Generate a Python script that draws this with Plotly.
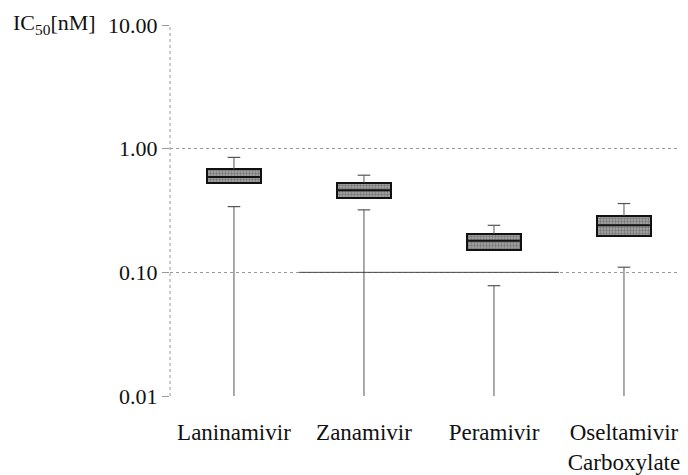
import plotly.graph_objects as go

categories = ["Laninamivir", "Zanamivir", "Peramivir", "Oseltamivir<br>Carboxylate"]
upper_cap = [0.85, 0.61, 0.24, 0.36]
q3 = [0.68, 0.53, 0.205, 0.285]
median = [0.59, 0.46, 0.18, 0.24]
q1 = [0.525, 0.40, 0.152, 0.195]
lower_cap = [0.34, 0.32, 0.078, 0.11]
y_tick_vals = [0.01, 0.1, 1, 10]
y_tick_text = ["0.01", "0.10", "1.00", "10.00"]
ref_line_x = [0.5, 2.5]
ref_line_y = [0.1, 0.1]

y_min, y_max = 0.01, 10
xpos = list(range(len(categories)))
FONT = "Liberation Serif, Times New Roman, serif"
WH = "#555555"

fig = go.Figure()

# whisker lines
lx, ly = [], []
for i, x in enumerate(xpos):
    lx += [x, x, None, x, x, None]
    ly += [q3[i], upper_cap[i], None, lower_cap[i], y_min, None]
fig.add_trace(go.Scatter(x=lx, y=ly, mode="lines", line=dict(color=WH, width=1),
                         hoverinfo="skip", showlegend=False))

# solid reference segment at 0.10
fig.add_trace(go.Scatter(x=ref_line_x, y=ref_line_y, mode="lines",
                         line=dict(color="#444444", width=1), showlegend=False, hoverinfo="skip"))

# boxes
fig.add_trace(go.Bar(x=xpos, base=q1, y=[a - b for a, b in zip(q3, q1)], width=0.41,
                     marker=dict(color="#808080", line=dict(color="#111111", width=2),
                                 pattern=dict(shape=".", fgcolor="#4a4a4a", bgcolor="#a8a8a8",
                                              size=3, solidity=0.5)),
                     showlegend=False, hoverinfo="skip"))

# caps
fig.add_trace(go.Scatter(x=xpos + xpos, y=upper_cap + lower_cap, mode="markers",
                         marker=dict(symbol="line-ew", size=9, line=dict(color=WH, width=1.2)),
                         showlegend=False, hoverinfo="skip"))
# medians
fig.add_trace(go.Scatter(x=xpos, y=median, mode="markers",
                         marker=dict(symbol="line-ew", size=37, line=dict(color="#111111", width=2)),
                         showlegend=False, hoverinfo="skip"))

fig.add_annotation(text="IC<sub>50</sub>[nM]", xref="paper", yref="paper", x=0, y=1,
                   xanchor="left", yanchor="top", showarrow=False, xshift=-159, yshift=17,
                   font=dict(family=FONT, size=22, color="#111111"))

fig.add_shape(type="line", xref="paper", yref="paper", x0=0, x1=0, y0=0, y1=1,
              line=dict(color="#999999", width=1, dash="dot"))

fig.update_layout(
    width=688, height=475,
    margin=dict(l=162, r=0, t=17, b=87),
    plot_bgcolor="white", paper_bgcolor="white",
    bargap=0,
    font=dict(family=FONT, color="#111111"),
    xaxis=dict(range=[-0.492, 3.554], tickvals=xpos, ticktext=categories, showgrid=False,
               zeroline=False, showline=False, ticks="outside", ticklen=15, tickcolor="rgba(0,0,0,0)",
               automargin=False,
               tickfont=dict(size=23, family=FONT, color="#111111")),
    yaxis=dict(type="log", range=[-2, 1], tickvals=y_tick_vals, ticktext=y_tick_text,
               showgrid=True, gridcolor="#999999", griddash="dot", gridwidth=1,
               zeroline=False, showline=False, ticks="outside", ticklen=7, tickcolor="#999999",
               automargin=False,
               tickfont=dict(size=22, family=FONT, color="#111111")),
)

fig.write_html("out.html")
